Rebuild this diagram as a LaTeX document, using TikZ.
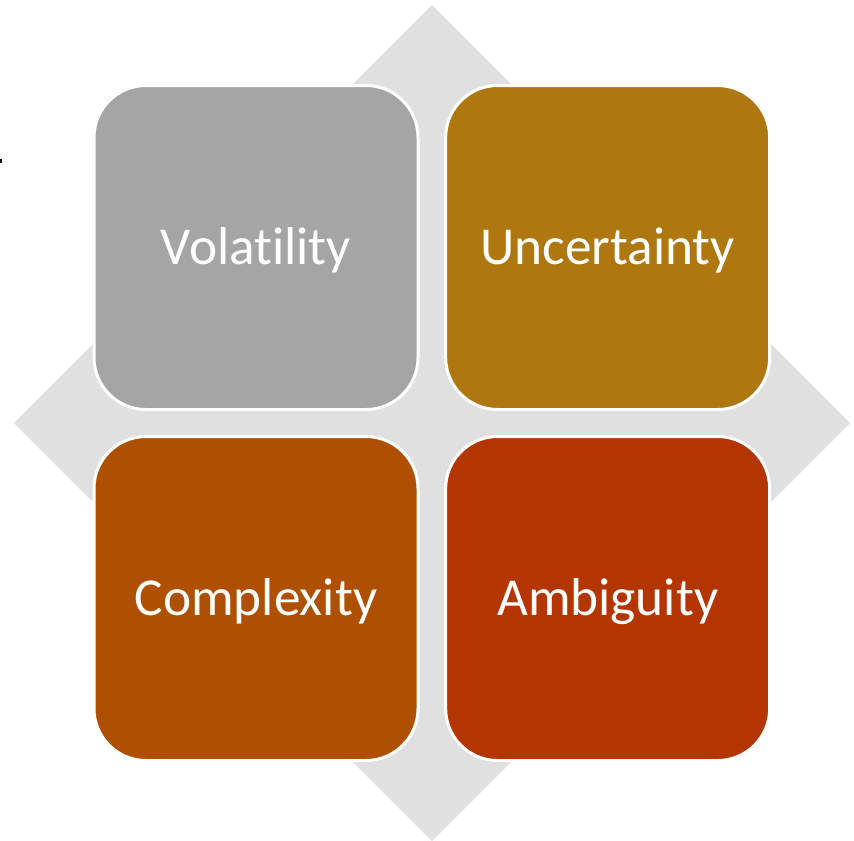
\documentclass[tikz,border=0pt]{standalone}
\usepackage{fontspec}
\setmainfont{Carlito}
\usetikzlibrary{positioning}
\definecolor{backgray}{HTML}{E0E0E0}
\definecolor{volgray}{HTML}{A5A5A5}
\definecolor{uncgold}{HTML}{AE770F}
\definecolor{cpxorange}{HTML}{AE5000}
\definecolor{ambred}{HTML}{B33500}
\newcommand{\celltext}[1]{\raisebox{-2pt}[\height][\depth]{#1}}
\tikzset{
  cell/.style = {rounded corners=39pt, minimum width=243pt, minimum height=243pt,
    draw=white, line width=2.25pt, text=white, inner sep=0pt,
    font=\fontsize{40}{48}\selectfont},
  vol_c/.style = {cell, fill=volgray},
  unc_c/.style = {cell, fill=uncgold},
  cpx_c/.style = {cell, fill=cpxorange},
  amb_c/.style = {cell, fill=ambred}
}

\begin{document}
\begin{tikzpicture}[x=0.75pt, y=-0.75pt]
\useasboundingbox (0,0) rectangle (854,840);
% grey diamond behind the grid
\fill[backgray] (432,5) -- (850,423) -- (432,841) -- (14,423) -- cycle;
\fill[black] (0,159) rectangle (2,163);
% the four cells
\node [vol_c] (vol) at (256,247.5) {\celltext{Volat\kern0pt ility}};
\node [unc_c, right=18.5pt of vol] (unc) {\celltext{Uncertainty}};
\node [cpx_c, below=18pt of vol] (cpx) {\celltext{Complexity}};
\node [amb_c, right=18.5pt of cpx] (amb) {\celltext{Ambiguity}};
\end{tikzpicture}
\end{document}
